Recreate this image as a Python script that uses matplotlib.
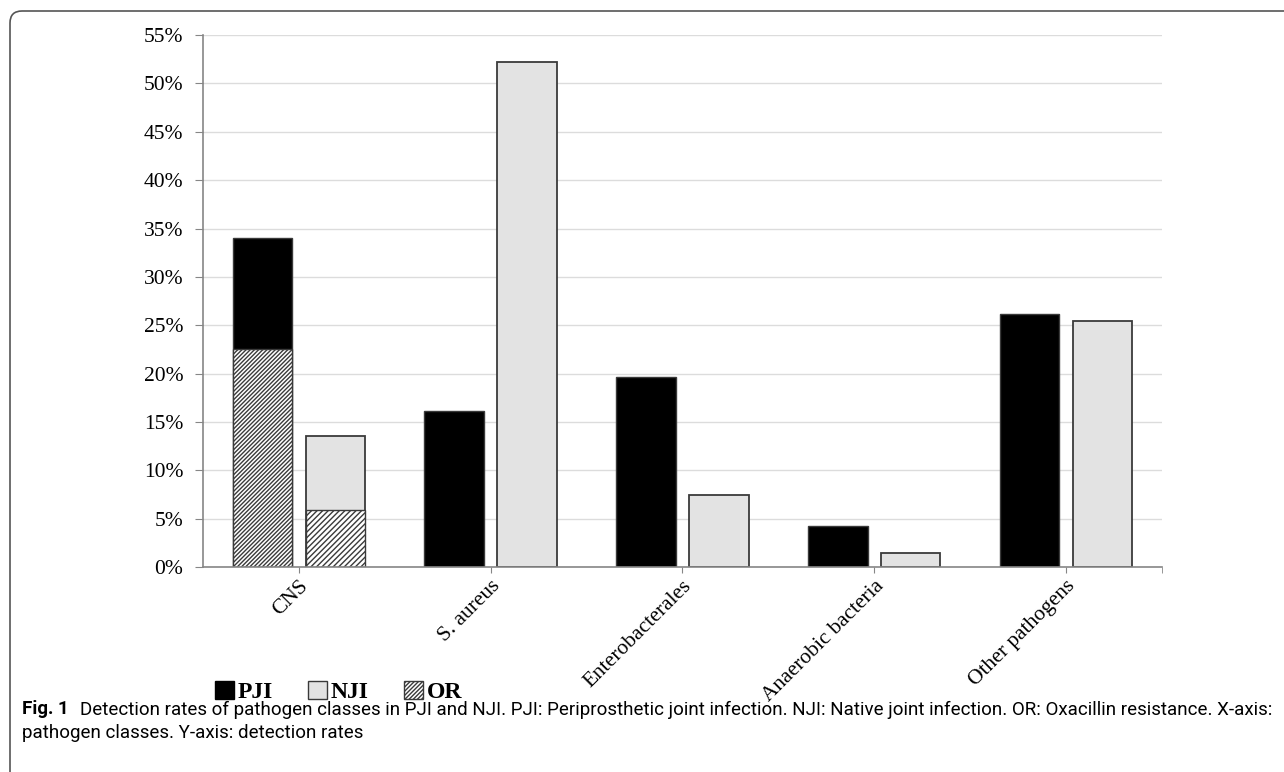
import matplotlib
matplotlib.use('Agg')
import matplotlib.pyplot as plt, numpy as np
import matplotlib.patches as mpatches

"""
Detection rates of pathogen classes in PJI and NJI (with oxacillin resistance share for CNS)
"""

categories = ['CNS', 'S. aureus', 'Enterobacterales', 'Anaerobic bacteria', 'Other pathogens']
pji = [34.0, 16.1, 19.7, 4.2, 26.2]
nji = [13.5, 52.2, 7.5, 1.5, 25.4]
or_pji = [22.5, 0, 0, 0, 0]
or_nji = [5.9, 0, 0, 0, 0]
yticks = np.arange(0, 56, 5)

serif = ['Liberation Serif', 'DejaVu Serif']
plt.rcParams['hatch.linewidth'] = 1.0
plt.rcParams['hatch.color'] = '#333333'

fig = plt.figure(figsize=(12.84, 7.72), dpi=100, facecolor='w')
ax = fig.add_axes([0.158, 0.2655, 0.747, 0.689])

x = np.arange(len(categories))
w = 0.31
off = 0.19
ec = '#3a3a3a'
ax.bar(x - off, pji, w, color='black', edgecolor=ec, lw=1.0, zorder=3)
ax.bar(x + off, nji, w, color='#e3e3e3', edgecolor=ec, lw=1.3, zorder=3)
ax.bar(x - off, or_pji, w, color='white', edgecolor=ec, hatch='////////', lw=1.0, zorder=4)
ax.bar(x + off, or_nji, w, color='white', edgecolor=ec, hatch='//////', lw=1.0, zorder=4)

ax.set_xlim(-0.5, 4.5)
ax.set_ylim(0, 55)
ax.set_yticks(yticks)
ax.set_yticklabels(['%d%%' % v for v in yticks], family=serif, fontsize=15.5)
ax.set_xticks(x)
ax.set_xticks([4.5], minor=True)
ax.set_xticklabels(categories, family=serif, fontsize=15.5, rotation=45,
                   ha='right', va='top', rotation_mode='anchor')
ax.tick_params(axis='x', which='both', length=4, color='#868686', pad=3)
ax.tick_params(axis='y', length=6, color='#868686', pad=8)
ax.grid(axis='y', color='#dcdcdc', lw=1.0, zorder=0)
for s in ['top', 'right']:
    ax.spines[s].set_visible(False)
for s in ['left', 'bottom']:
    ax.spines[s].set_color('#868686')
    ax.spines[s].set_linewidth(1.2)
ax.spines['bottom'].set_zorder(5)

handles = [mpatches.Patch(facecolor='black', edgecolor='black', label='PJI'),
           mpatches.Patch(facecolor='#e3e3e3', edgecolor=ec, label='NJI'),
           mpatches.Patch(facecolor='white', edgecolor=ec, hatch='////////', label='OR')]
fig.legend(handles=handles, loc='center left', bbox_to_anchor=(0.151, 0.104), ncol=3,
           frameon=False, handlelength=0.8, handleheight=0.8, handletextpad=0.15,
           columnspacing=1.5, prop={'family': serif, 'weight': 'bold', 'size': 17})

# caption
cap_font = ['Roboto', 'Open Sans', 'DejaVu Sans']
fig.text(0.017, 0.081, 'Fig. 1', family=cap_font, weight='bold', fontsize=13.5, va='center')
fig.text(0.062, 0.081, 'Detection rates of pathogen classes in PJI and NJI. PJI: Periprosthetic joint infection. '
         'NJI: Native joint infection. OR: Oxacillin resistance. X-axis:',
         family=cap_font, fontsize=13.5, va='center')
fig.text(0.017, 0.050, 'pathogen classes. Y-axis: detection rates', family=cap_font, fontsize=13.5, va='center')

# frame round the figure
frame = mpatches.FancyBboxPatch((10, -30), 1320, 791, boxstyle='round,pad=0,rounding_size=12',
                                transform=None, fill=False, edgecolor='#555555', lw=1.2, clip_on=False)
fig.patches.append(frame)

plt.savefig('out.png', dpi=100, facecolor='w')
